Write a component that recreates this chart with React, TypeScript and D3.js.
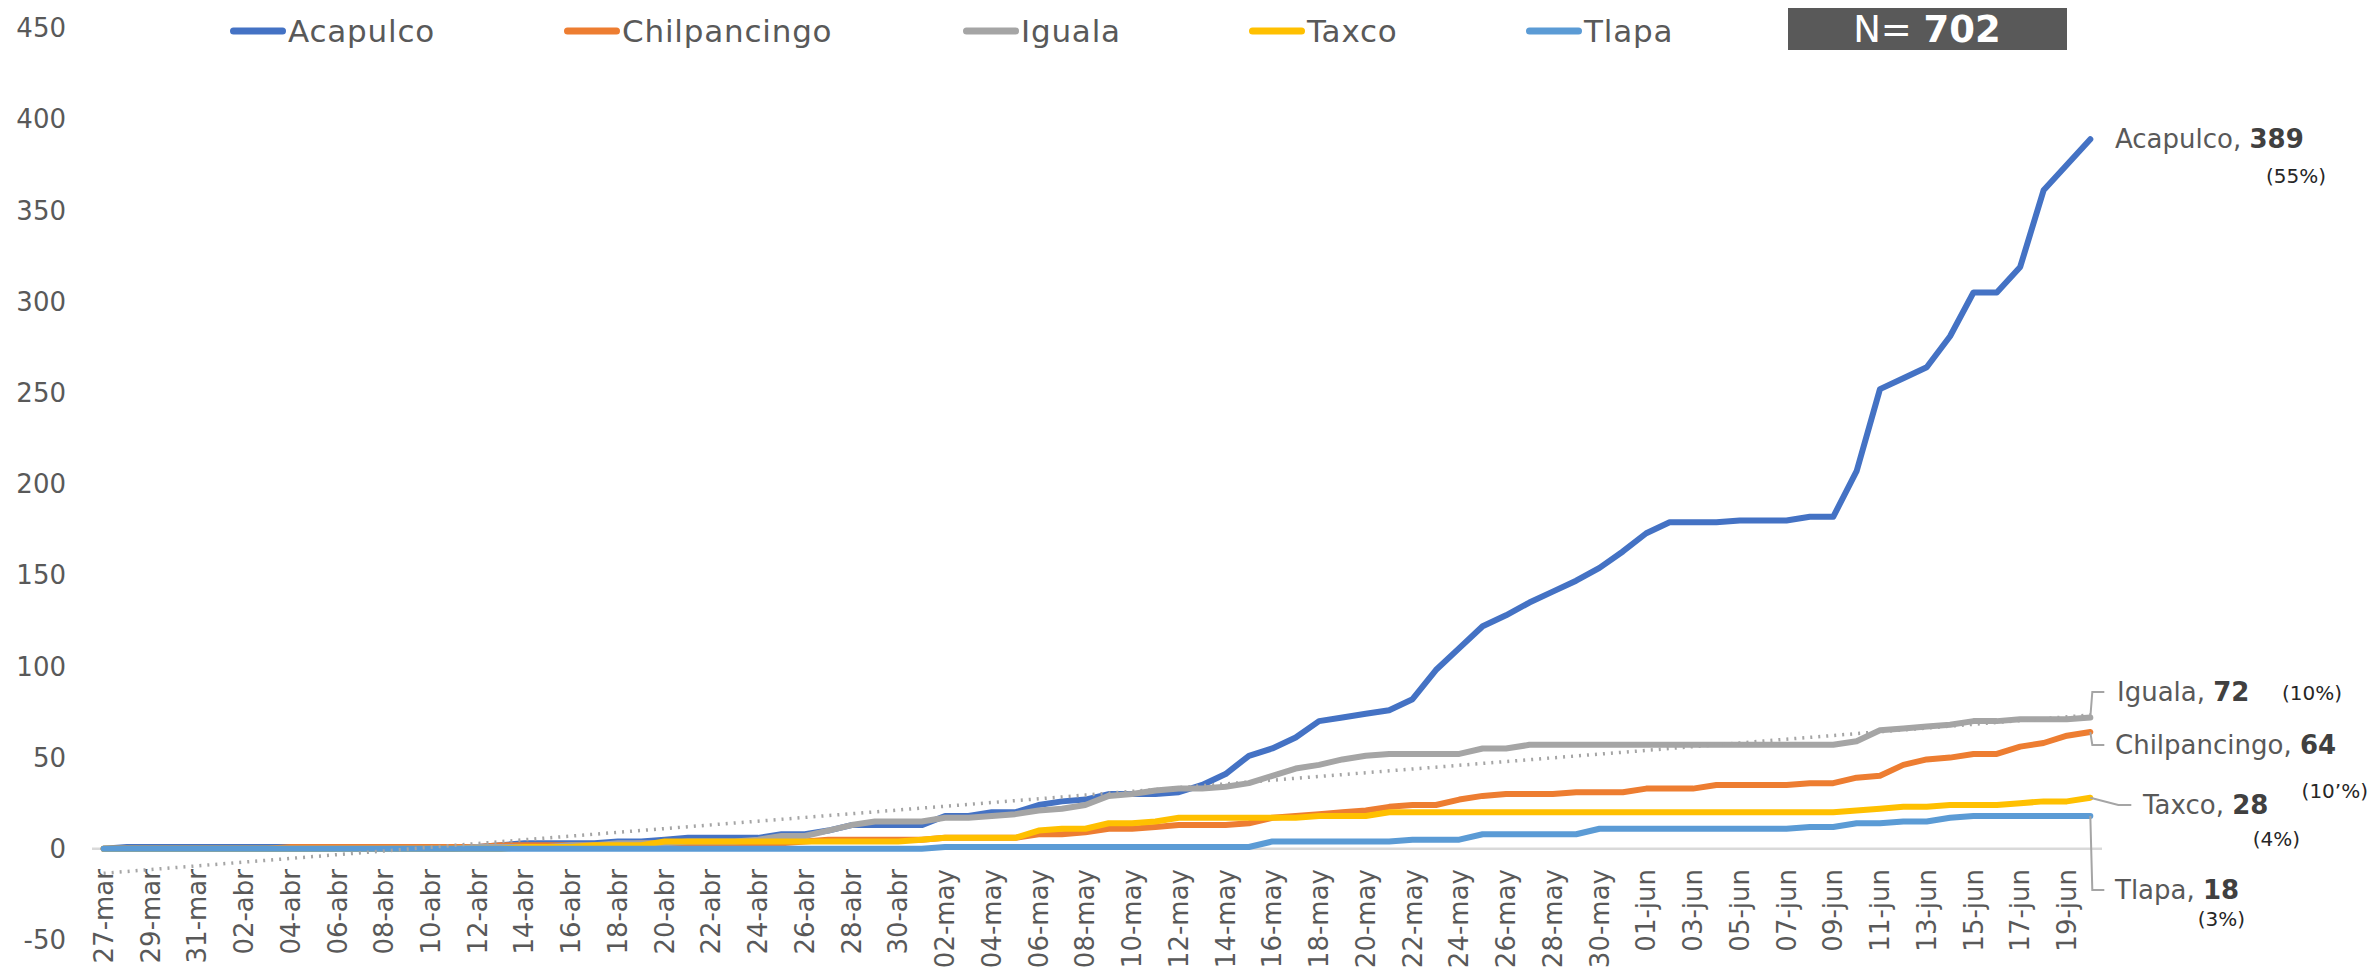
import React from "react";
import * as d3 from "d3";

// ---------- DATA ----------
const MONTHS_ES = ["ene", "feb", "mar", "abr", "may", "jun", "jul", "ago", "sep", "oct", "nov", "dic"];
const DATES: Date[] = d3.timeDay.range(new Date(2020, 2, 27), new Date(2020, 5, 21)); // 27-mar .. 20-jun
const CATEGORIES: string[] = DATES.map((d) => d3.timeFormat("%d")(d) + "-" + MONTHS_ES[d.getMonth()]);

const SERIES_NAMES = ["Acapulco", "Chilpancingo", "Iguala", "Taxco", "Tlapa"];
const SERIES_COLORS = ["#4472C4", "#ED7D31", "#A5A5A5", "#FFC000", "#5B9BD5"];

const ACAPULCO = [
  0, 1, 1, 1, 1, 1, 1, 1, 1, 1,
  1, 1, 1, 1, 1, 1, 1, 2, 3, 3,
  3, 3, 4, 4, 5, 6, 6, 6, 6, 8,
  8, 10, 13, 13, 13, 13, 18, 18, 20, 20,
  24, 26, 27, 30, 30, 30, 31, 35, 41, 51,
  55, 61, 70, 72, 74, 76, 82, 98, 110, 122,
  128, 135, 141, 147, 154, 163, 173, 179, 179, 179,
  180, 180, 180, 182, 182, 207, 252, 258, 264, 281,
  305, 305, 319, 361, 375, 389,
];
const CHILPANCINGO = [
  0, 0, 0, 0, 0, 0, 0, 0, 1, 1,
  1, 1, 1, 1, 1, 1, 1, 2, 2, 2,
  2, 2, 2, 3, 3, 3, 3, 3, 3, 3,
  4, 5, 5, 5, 5, 5, 6, 6, 6, 6,
  8, 8, 9, 11, 11, 12, 13, 13, 13, 14,
  17, 18, 19, 20, 21, 23, 24, 24, 27, 29,
  30, 30, 30, 31, 31, 31, 33, 33, 33, 35,
  35, 35, 35, 36, 36, 39, 40, 46, 49, 50,
  52, 52, 56, 58, 62, 64,
];
const IGUALA = [
  0, 0, 0, 0, 0, 0, 0, 0, 0, 0,
  0, 0, 0, 0, 0, 0, 1, 1, 1, 1,
  2, 2, 3, 3, 3, 4, 4, 4, 5, 7,
  7, 10, 13, 15, 15, 15, 17, 17, 18, 19,
  21, 22, 24, 29, 30, 32, 33, 33, 34, 36,
  40, 44, 46, 49, 51, 52, 52, 52, 52, 55,
  55, 57, 57, 57, 57, 57, 57, 57, 57, 57,
  57, 57, 57, 57, 57, 59, 65, 66, 67, 68,
  70, 70, 71, 71, 71, 72,
];
const TAXCO = [
  0, 0, 0, 0, 0, 0, 0, 0, 0, 0,
  0, 0, 0, 0, 0, 0, 0, 0, 1, 1,
  1, 2, 2, 2, 4, 4, 4, 4, 4, 4,
  4, 4, 4, 4, 4, 5, 6, 6, 6, 6,
  10, 11, 11, 14, 14, 15, 17, 17, 17, 17,
  17, 17, 18, 18, 18, 20, 20, 20, 20, 20,
  20, 20, 20, 20, 20, 20, 20, 20, 20, 20,
  20, 20, 20, 20, 20, 21, 22, 23, 23, 24,
  24, 24, 25, 26, 26, 28,
];
const TLAPA = [
  0, 0, 0, 0, 0, 0, 0, 0, 0, 0,
  0, 0, 0, 0, 0, 0, 0, 0, 0, 0,
  0, 0, 0, 0, 0, 0, 0, 0, 0, 0,
  0, 0, 0, 0, 0, 0, 1, 1, 1, 1,
  1, 1, 1, 1, 1, 1, 1, 1, 1, 1,
  4, 4, 4, 4, 4, 4, 5, 5, 5, 8,
  8, 8, 8, 8, 11, 11, 11, 11, 11, 11,
  11, 11, 11, 12, 12, 14, 14, 15, 15, 17,
  18, 18, 18, 18, 18, 18,
];
const SERIES = [ACAPULCO, CHILPANCINGO, IGUALA, TAXCO, TLAPA];
const PERCENT_LABELS = ["(55%)", "(10\u2019%)", "(10%)", "(4%)", "(3%)"];
const TOTAL_N = 702;

// ---------- LAYOUT ----------
const W = 2374;
const H = 979;
const PLOT_LEFT = 92;
const PLOT_RIGHT = 2102;
const FONT = "'DejaVu Sans', 'Open Sans', sans-serif";
const LEGEND_X = [230, 564, 963, 1249, 1526];
const LEGEND_Y = 31;
const TEXT_GRAY = "#595959";

const NAME_POS = [
  { x: 2115, y: 139 },
  { x: 2115, y: 745 },
  { x: 2117, y: 692 },
  { x: 2143, y: 805 },
  { x: 2115, y: 890 },
];
const PCT_POS = [
  { x: 2326, y: 176 },
  { x: 2368, y: 791 },
  { x: 2342, y: 693 },
  { x: 2300, y: 839 },
  { x: 2245, y: 919 },
];

export default function App() {
  const x = d3.scalePoint<string>().domain(CATEGORIES).range([PLOT_LEFT, PLOT_RIGHT]).padding(0.5);
  const y = d3.scaleLinear().domain([-50, 450]).range([940, 28]);
  const yTicks = y.ticks(10);

  const line = d3
    .line<number>()
    .x((_, i) => x(CATEGORIES[i]) as number)
    .y((d) => y(d));

  // linear trendline of Iguala (least squares)
  const n = IGUALA.length;
  const xs = d3.range(n);
  const mx = d3.mean(xs) as number;
  const my = d3.mean(IGUALA) as number;
  let sxy = 0;
  let sxx = 0;
  xs.forEach((i) => {
    sxy += (i - mx) * (IGUALA[i] - my);
    sxx += (i - mx) * (i - mx);
  });
  const slope = sxy / sxx;
  const intercept = my - slope * mx;
  const trend = xs.map((i) => intercept + slope * i);

  const lastIdx = n - 1;
  const xEnd = x(CATEGORIES[lastIdx]) as number;
  const ends = SERIES.map((s) => ({ x: xEnd, y: y(s[lastIdx]) }));

  const leaders: (string | null)[] = [
    null,
    `M${ends[1].x},${ends[1].y} L${ends[1].x + 2},${NAME_POS[1].y} L${ends[1].x + 14},${NAME_POS[1].y}`,
    `M${ends[2].x},${ends[2].y} L${ends[2].x + 2},${NAME_POS[2].y} L${ends[2].x + 14},${NAME_POS[2].y}`,
    `M${ends[3].x},${ends[3].y} L${ends[3].x + 28},${NAME_POS[3].y} L${ends[3].x + 41},${NAME_POS[3].y}`,
    `M${ends[4].x},${ends[4].y} L${ends[4].x + 2},${NAME_POS[4].y} L${ends[4].x + 14},${NAME_POS[4].y}`,
  ];

  return (
    <svg
      width={W}
      height={H}
      viewBox={`0 0 ${W} ${H}`}
      style={{ position: "absolute", left: 0, top: 0, background: "#fff" }}
      fontFamily={FONT}
    >
      {/* y axis labels */}
      {yTicks.map((t) => (
        <text key={t} x={66} y={y(t)} dy="0.35em" textAnchor="end" fontSize={26} fill={TEXT_GRAY}>
          {t}
        </text>
      ))}

      {/* zero line */}
      <line x1={PLOT_LEFT} x2={PLOT_RIGHT} y1={y(0)} y2={y(0)} stroke="#D9D9D9" strokeWidth={2.5} />

      {/* x axis labels */}
      {CATEGORIES.map((c, i) =>
        i % 2 === 0 ? (
          <text
            key={c}
            transform={`translate(${x(c)},869) rotate(-90)`}
            dy="0.35em"
            textAnchor="end"
            fontSize={26}
            fill={TEXT_GRAY}
          >
            {c}
          </text>
        ) : null
      )}

      {/* series lines */}
      {SERIES.map((s, k) => (
        <path
          key={SERIES_NAMES[k]}
          d={line(s) as string}
          fill="none"
          stroke={SERIES_COLORS[k]}
          strokeWidth={6}
          strokeLinejoin="round"
          strokeLinecap="round"
        />
      ))}

      {/* trendline */}
      <path d={line(trend) as string} fill="none" stroke="#A5A5A5" strokeWidth={3.5} strokeDasharray="2 6" />

      {/* leader lines */}
      {leaders.map((d, k) =>
        d ? <path key={"l" + k} d={d} fill="none" stroke="#A5A5A5" strokeWidth={2} /> : null
      )}

      {/* end labels */}
      {SERIES_NAMES.map((name, k) => (
        <g key={"lab" + name}>
          <text x={NAME_POS[k].x} y={NAME_POS[k].y} dy="0.35em" fontSize={26} fill={TEXT_GRAY}>
            {name + ", "}
            <tspan fontWeight={700} fill="#404040">
              {SERIES[k][lastIdx]}
            </tspan>
          </text>
          <text x={PCT_POS[k].x} y={PCT_POS[k].y} dy="0.35em" textAnchor="end" fontSize={20} fill="#262626">
            {PERCENT_LABELS[k]}
          </text>
        </g>
      ))}

      {/* legend */}
      {SERIES_NAMES.map((name, k) => (
        <g key={"leg" + name}>
          <line
            x1={LEGEND_X[k] + 3.5}
            x2={LEGEND_X[k] + 52.5}
            y1={LEGEND_Y}
            y2={LEGEND_Y}
            stroke={SERIES_COLORS[k]}
            strokeWidth={7}
            strokeLinecap="round"
          />
          <text
            x={LEGEND_X[k] + 58}
            y={LEGEND_Y}
            dy="0.35em"
            fontSize={31}
            letterSpacing={0.8}
            fill={TEXT_GRAY}
          >
            {name}
          </text>
        </g>
      ))}

      {/* N box */}
      <rect x={1788} y={8} width={279} height={42} fill="#595959" />
      <text x={1927} y={29} dy="0.36em" textAnchor="middle" fontSize={37} fill="#fff">
        {"N= "}
        <tspan fontWeight={700}>{TOTAL_N}</tspan>
      </text>
    </svg>
  );
}
